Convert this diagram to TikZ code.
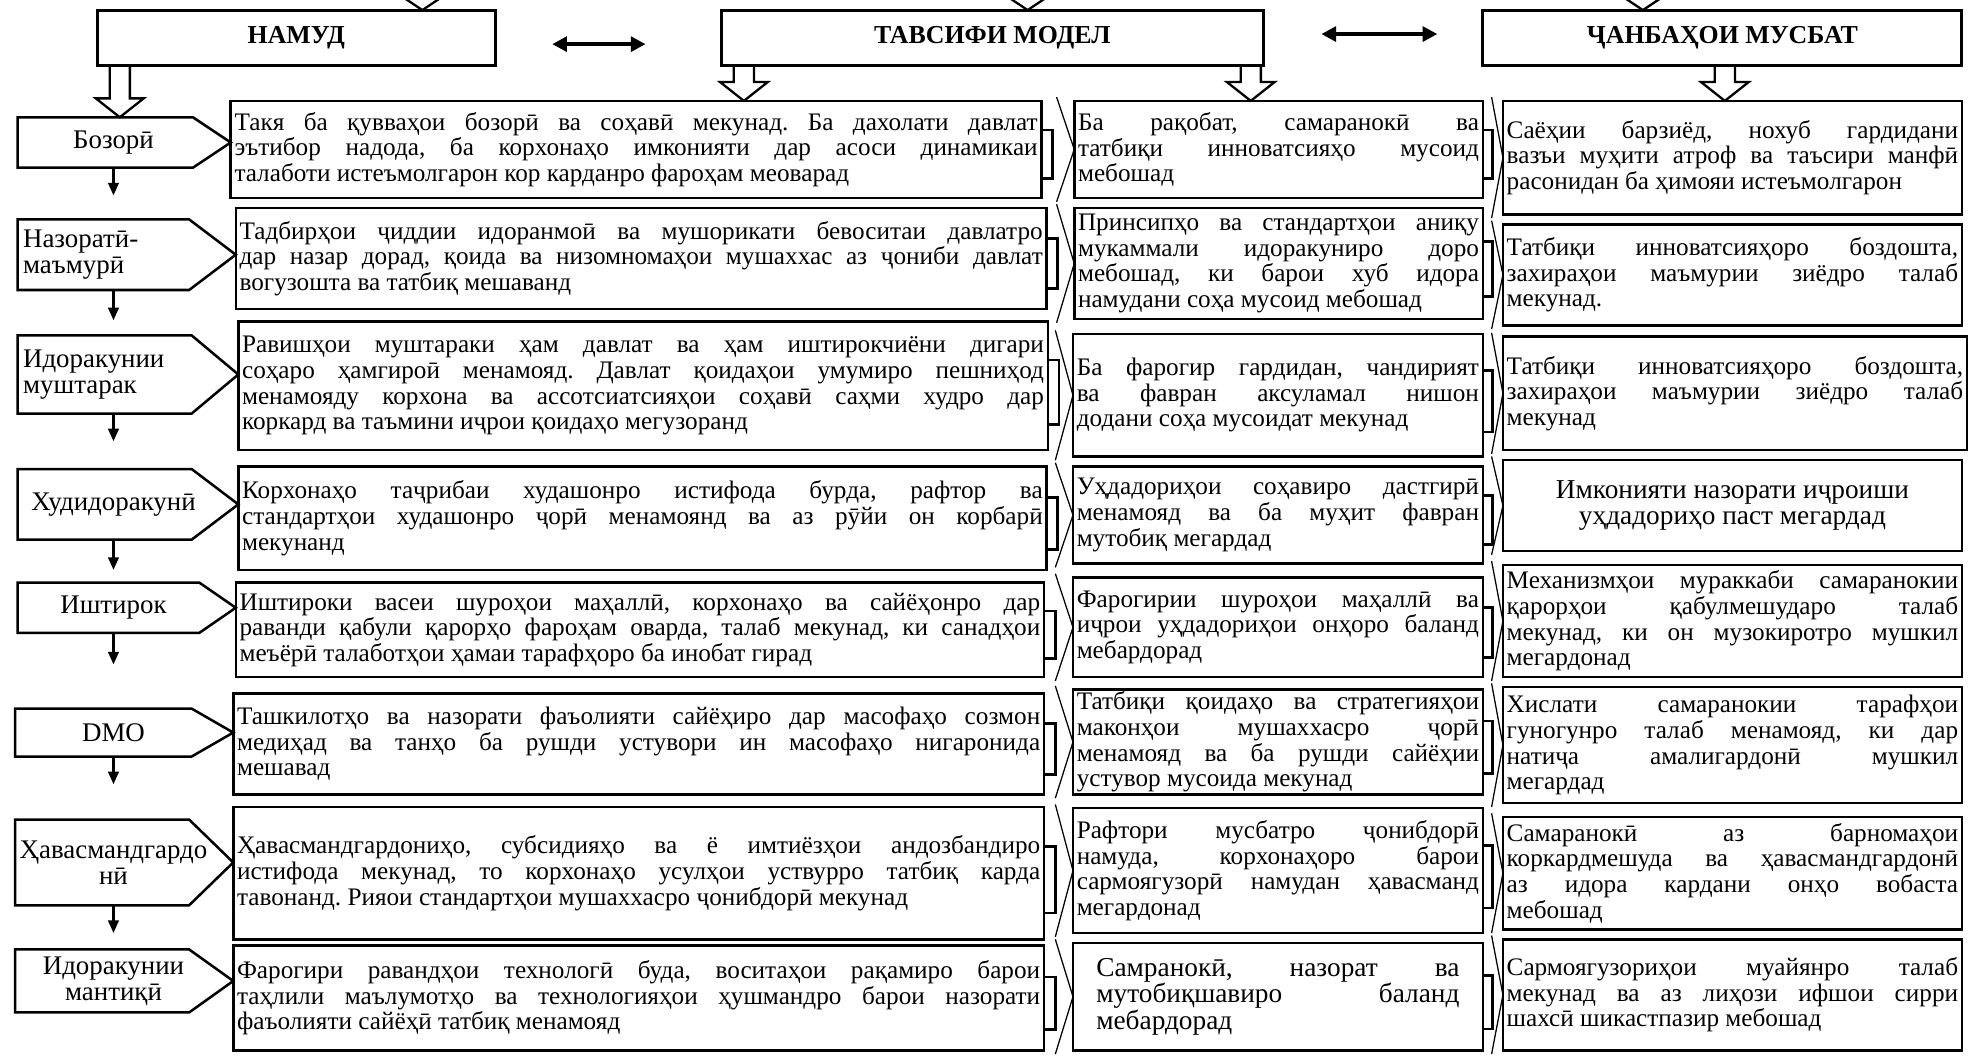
\documentclass[tikz,border=0pt]{standalone}
\usepackage{fontspec}
\setmainfont{Liberation Serif}
\usetikzlibrary{calc,arrows.meta}
\hyphenpenalty=10000
\exhyphenpenalty=10000
\hbadness=10000
\hfuzz=20pt
\frenchspacing
\newcommand\JL[1]{\hbox to\hsize{\spaceskip=0.25em plus 2em minus 0.13em\relax #1}}
\newcommand\LL[1]{\hbox{#1}}
\newcommand\CL[1]{\hbox to\hsize{\hfil#1\hfil}}
% name, x1, y1, x2, y2, inset(px), opts, text
\newcommand\tbox[8]{%
  \pgfmathsetmacro\tbW{(#4-#2)*0.6}%
  \pgfmathsetmacro\tbH{(#5-#3)*0.6}%
  \pgfmathsetmacro\tbT{(#4-#2-#6)*0.6}%
  \node[tb, minimum width=\tbW pt, minimum height=\tbH pt, #7] (#1) at ({(#2+#4)/2},{(#3+#5)/2}) {\vbox{\hsize=\tbT pt\relax #8}};}
% name, x1, y1, rect right, y2, target box, opts, text
\newcommand\pent[8]{%
  \pgfmathsetmacro\pnW{(90-#2)*2*0.6}%
  \pgfmathsetmacro\pnH{(#5-#3)*0.6}%
  \node[pentnode, minimum width=\pnW pt, minimum height=\pnH pt, #7] (#1) at (90,{(#3+#5)/2}) {#8};
  \draw[pline] (#1.south west) -- (#1.north west) -- ($(#1.north west)+(#4-#2,0)$) -- (#6.west |- #1.center) -- ($(#1.south west)+(#4-#2,0)$) -- cycle;}
% x coordinate, from node, to node
\newcommand\blkarrow[3]{%
  \draw[blk] ($(#2.south -| #1)+(-8,0)$) -- ($(#3.north -| #1)+(-8,-15)$) -- ($(#3.north -| #1)+(-19,-15)$) -- (#3.north -| #1) -- ($(#3.north -| #1)+(19,-15)$) -- ($(#3.north -| #1)+(8,-15)$) -- ($(#2.south -| #1)+(8,0)$);}
\begin{document}
\begin{tikzpicture}[x=0.6pt,y=-0.6pt,
  tb/.style={draw, line width=1.2pt, inner sep=0pt, outer sep=0pt, font=\fontsize{12}{12.2}\selectfont},
  big/.style={font=\fontsize{13}{12.6}\selectfont},
  hd/.style={draw, line width=1.4pt, inner sep=0pt, outer sep=0pt, minimum height=26.4pt, font=\bfseries\fontsize{12.3}{14}\selectfont},
  pentnode/.style={inner sep=0pt, outer sep=0pt, font=\fontsize{12.8}{12.4}\selectfont},
  pline/.style={line width=1.2pt, line join=miter},
  blk/.style={line width=1.1pt, line join=miter},
  brk/.style={line width=1.3pt},
  chev/.style={line width=0.6pt},
  dnarr/.style={line width=1.2pt, -{Triangle[length=6pt,width=5pt]}},
  dbl/.style={line width=1.8pt, {Triangle[length=7pt,width=7pt]}-{Triangle[length=7pt,width=7pt]}}]
\useasboundingbox (0,0) rectangle (1568,838);
\clip (0,0) rectangle (1568,838);

% headers
\node[hd, minimum width=189.6pt] (H1) at (235,30) {НАМУД};
\node[hd, minimum width=258pt] (H2) at (787,30) {ТАВСИФИ МОДЕЛ};
\node[hd, minimum width=228pt] (H3) at (1366,30) {ҶАНБАҲОИ МУСБАТ};

% column 1
\tbox{a1}{183}{80}{826}{157}{6}{}{%
\JL{Такя ба қувваҳои бозорӣ ва соҳавӣ мекунад. Ба дахолати давлат}
\JL{эътибор надода, ба корхонаҳо имконияти дар асоси динамикаи}
\LL{талаботи истеъмолгарон кор карданро фароҳам меоварад}}
\tbox{a2}{187}{165}{830}{245}{6}{}{%
\JL{Тадбирҳои ҷиддии идоранмоӣ ва мушорикати бевоситаи давлатро}
\JL{дар назар дорад, қоида ва низомномаҳои мушаххас аз ҷониби давлат}
\LL{вогузошта ва татбиқ мешаванд}}
\tbox{a3}{189}{255}{831}{357}{6}{}{%
\JL{Равишҳои муштараки ҳам давлат ва ҳам иштирокчиёни дигари}
\JL{соҳаро ҳамгироӣ менамояд. Давлат қоидаҳои умумиро пешниҳод}
\JL{менамояду корхона ва ассотсиатсияҳои соҳавӣ саҳми худро дар}
\LL{коркард ва таъмини иҷрои қоидаҳо мегузоранд}}
\tbox{a4}{189}{370}{830}{452}{6}{}{%
\JL{Корхонаҳо таҷрибаи худашонро истифода бурда, рафтор ва}
\JL{стандартҳои худашонро ҷорӣ менамоянд ва аз рӯйи он корбарӣ}
\LL{мекунанд}}
\tbox{a5}{187}{462}{828}{537}{6}{}{%
\JL{Иштироки васеи шуроҳои маҳаллӣ, корхонаҳо ва сайёҳонро дар}
\JL{раванди қабули қарорҳо фароҳам оварда, талаб мекунад, ки санадҳои}
\LL{меъёрӣ талаботҳои ҳамаи тарафҳоро ба инобат гирад}}
\tbox{a6}{185}{550}{828}{630}{6}{}{%
\JL{Ташкилотҳо ва назорати фаъолияти сайёҳиро дар масофаҳо созмон}
\JL{медиҳад ва танҳо ба рушди устувори ин масофаҳо нигаронида}
\LL{мешавад}}
\tbox{a7}{185}{640}{828}{745}{6}{}{%
\JL{Ҳавасмандгардониҳо, субсидияҳо ва ё имтиёзҳои андозбандиро}
\JL{истифода мекунад, то корхонаҳо усулҳои уствурро татбиқ карда}
\LL{тавонанд. Рияои стандартҳои мушаххасро ҷонибдорӣ мекунад}}
\tbox{a8}{185}{750}{828}{833}{6}{}{%
\JL{Фарогири равандҳои технологӣ буда, воситаҳои рақамиро барои}
\JL{таҳлили маълумотҳо ва технологияҳои ҳушмандро барои назорати}
\LL{фаъолияти сайёҳӣ татбиқ менамояд}}

% column 2
\tbox{b1}{852}{80}{1176}{157}{6}{}{%
\JL{Ба рақобат, самаранокӣ ва}
\JL{татбиқи инноватсияҳо мусоид}
\LL{мебошад}}
\tbox{b2}{852}{165}{1176}{253}{6}{}{%
\JL{Принсипҳо ва стандартҳои аниқу}
\JL{мукаммали идоракуниро доро}
\JL{мебошад, ки барои хуб идора}
\LL{намудани соҳа мусоид мебошад}}
\tbox{b3}{851}{265}{1176}{362}{6}{}{%
\JL{Ба фарогир гардидан, чандирият}
\JL{ва фавран аксуламал нишон}
\LL{додани соҳа мусоидат мекунад}}
\tbox{b4}{851}{370}{1176}{447}{6}{}{%
\JL{Уҳдадориҳои соҳавиро дастгирӣ}
\JL{менамояд ва ба муҳит фавран}
\LL{мутобиқ мегардад}}
\tbox{b5}{851}{458}{1176}{537}{6}{}{%
\JL{Фарогирии шуроҳои маҳаллӣ ва}
\JL{иҷрои уҳдадориҳои онҳоро баланд}
\LL{мебардорад}}
\tbox{b6}{851}{547}{1176}{630}{6}{}{%
\JL{Татбиқи қоидаҳо ва стратегияҳои}
\JL{маконҳои мушаххасро ҷорӣ}
\JL{менамояд ва ба рушди сайёҳии}
\LL{устувор мусоида мекунад}}
\tbox{b7}{851}{641}{1176}{740}{6}{}{%
\JL{Рафтори мусбатро ҷонибдорӣ}
\JL{намуда, корхонаҳоро барои}
\JL{сармоягузорӣ намудан ҳавасманд}
\LL{мегардонад}}
\tbox{b8}{851}{748}{1176}{833}{37}{big}{%
\JL{Самранокӣ, назорат ва}
\JL{мутобиқшавиро баланд}
\LL{мебардорад}}

% column 3
\tbox{c1}{1192}{80}{1556}{170}{6}{}{%
\JL{Саёҳии барзиёд, нохуб гардидани}
\JL{вазъи муҳити атроф ва таъсири манфӣ}
\LL{расонидан ба ҳимояи истеъмолгарон}}
\tbox{c2}{1192}{178}{1556}{258}{6}{}{%
\JL{Татбиқи инноватсияҳоро боздошта,}
\JL{захираҳои маъмурии зиёдро талаб}
\LL{мекунад.}}
\tbox{c3}{1192}{267}{1560}{357}{6}{}{%
\JL{Татбиқи инноватсияҳоро боздошта,}
\JL{захираҳои маъмурии зиёдро талаб}
\LL{мекунад}}
\tbox{c4}{1192}{365}{1556}{437}{6}{big}{%
\CL{Имконияти назорати иҷроиши}
\CL{уҳдадориҳо паст мегардад}}
\tbox{c5}{1192}{448}{1556}{537}{6}{}{%
\JL{Механизмҳои мураккаби самаранокии}
\JL{қарорҳои қабулмешударо талаб}
\JL{мекунад, ки он музокиротро мушкил}
\LL{мегардонад}}
\tbox{c6}{1192}{545}{1556}{637}{6}{}{%
\JL{Хислати самаранокии тарафҳои}
\JL{гуногунро талаб менамояд, ки дар}
\JL{натиҷа амалигардонӣ мушкил}
\LL{мегардад}}
\tbox{c7}{1192}{648}{1556}{737}{6}{}{%
\JL{Самаранокӣ аз барномаҳои}
\JL{коркардмешуда ва ҳавасмандгардонӣ}
\JL{аз идора кардани онҳо вобаста}
\LL{мебошад}}
\tbox{c8}{1192}{745}{1556}{833}{6}{}{%
\JL{Сармоягузориҳои муайянро талаб}
\JL{мекунад ва аз лиҳози ифшои сирри}
\LL{шахсӣ шикастпазир мебошад}}

% left column pentagons
\pent{p1}{14}{93}{153}{133}{a1}{}{Бозорӣ}
\pent{p2}{14}{174}{150}{230}{a2}{align=left, text width=86pt}{Назоратӣ-\\маъмурӣ}
\pent{p3}{14}{266}{152}{328}{a3}{align=left, text width=86pt}{Идоракунии\\муштарак}
\pent{p4}{14}{372}{152}{428}{a4}{}{Худидоракунӣ}
\pent{p5}{14}{462}{158}{502}{a5}{}{Иштирок}
\pent{p6}{12}{562}{152}{600}{a6}{}{DMO}
\pent{p7}{12}{650}{150}{718}{a7}{align=center}{Ҳавасмандгардо\\нӣ}
\pent{p8}{12}{753}{150}{803}{a8}{align=center}{Идоракунии\\мантиқӣ}

% small down arrows
\coordinate (d1) at (90,155);
\coordinate (d2) at (90,254);
\coordinate (d3) at (90,350);
\coordinate (d4) at (90,452);
\coordinate (d5) at (90,527);
\coordinate (d6) at (90,622);
\coordinate (d7) at (90,740);
\foreach \i in {1,...,7} {\draw[dnarr] (p\i.south -| d\i) -- (d\i);}

% brackets and chevrons
\foreach \i in {1,...,8} {
  \draw[brk] ($(a\i.north east)!0.3!(a\i.south east)$) -- ++(9,0) |- ($(a\i.north east)!0.8!(a\i.south east)$);
  \draw[brk] ($(b\i.north east)!0.3!(b\i.south east)$) -- ++(8,0) |- ($(b\i.north east)!0.8!(b\i.south east)$);
  \draw[chev] ($(b\i.north west)+(-14,-3)$) -- (b\i.west) -- ($(b\i.south west)+(-14,3)$);
  \draw[chev] ($(c\i.north west)+(-9,-3)$) -- (c\i.west) -- ($(c\i.south west)+(-9,3)$);
}

% hollow block arrows
\coordinate (x1) at (95,0);
\coordinate (x2) at (590,0);
\coordinate (x3) at (992,0);
\coordinate (x4) at (1368,0);
\blkarrow{x1}{H1}{p1}
\blkarrow{x2}{H2}{a1}
\blkarrow{x3}{H2}{b1}
\blkarrow{x4}{H3}{c1}

% arrow heads entering from above (cut by the frame)
\coordinate (t1) at (335,-4);
\coordinate (t2) at (815,-4);
\coordinate (t3) at (1303,-4);
\foreach \t/\h in {t1/H1,t2/H2,t3/H3} {
  \draw[blk] ($(\t)+(-18,0)$) -- (\h.north -| \t) -- ($(\t)+(18,0)$);
}

% double arrows between headers
\coordinate (e1) at (438,35);
\coordinate (e2) at (512,35);
\coordinate (e3) at (1048,27);
\coordinate (e4) at (1140,27);
\draw[dbl] (e1) -- (e2);
\draw[dbl] (e3) -- (e4);
\end{tikzpicture}
\end{document}
